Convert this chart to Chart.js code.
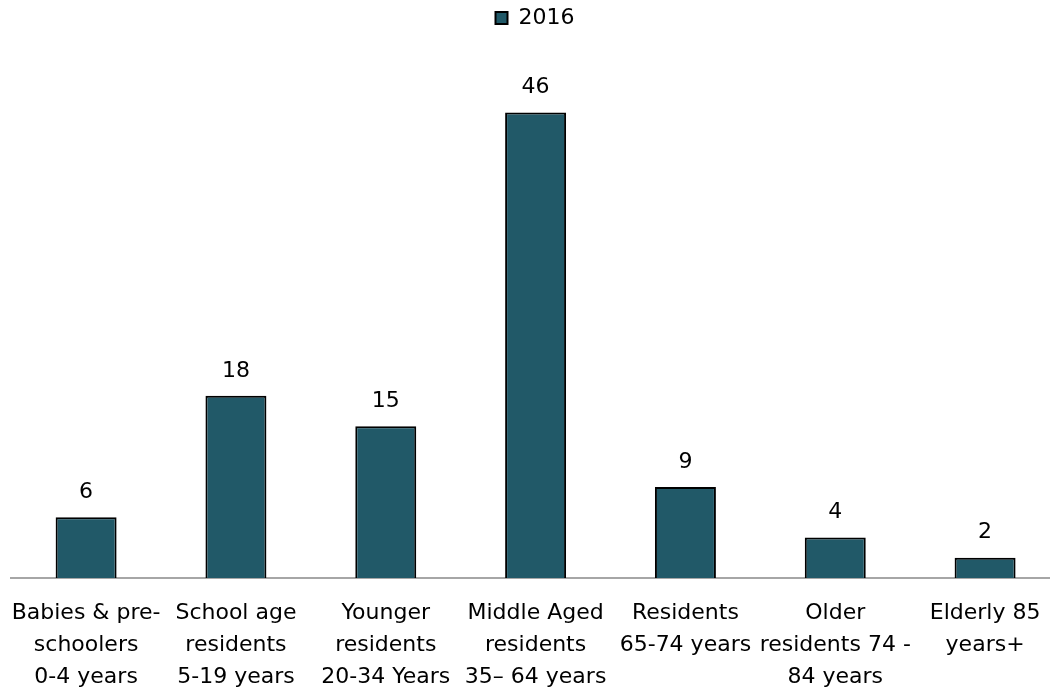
<!DOCTYPE html>
<html>
<head>
<meta charset="utf-8">
<script src="https://cdn.jsdelivr.net/npm/chart.js@4"></script>
<style>
    html, body { margin: 0; padding: 0; background: #fff; overflow: hidden; }
    #wrap { width: 1060px; height: 691px; }
</style>
</head>
<body>
<div id="wrap"><canvas id="bar" width="1060" height="691"></canvas></div>
<script>
// 연령대별 인구
const categories = [
    ["Babies & pre-", "schoolers", "0-4 years"],
    ["School age", "residents", "5-19 years"],
    ["Younger", "residents", "20-34 Years"],
    ["Middle Aged", "residents", "35– 64 years"],
    ["Residents", "65-74 years"],
    ["Older", "residents 74 -", "84 years"],
    ["Elderly 85", "years+"]
];
const values2016 = [6, 18, 15, 46, 9, 4, 2];
const seriesName = "2016";

const FONT = "'DejaVu Sans', sans-serif";
const FSIZE = 22;

// 막대 위에 값 표시
const valueLabels = {
    id: 'valueLabels',
    afterDatasetsDraw(chart) {
        const ctx = chart.ctx;
        const meta = chart.getDatasetMeta(0);
        ctx.save();
        ctx.font = `${FSIZE}px ${FONT}`;
        ctx.fillStyle = '#000';
        ctx.textAlign = 'center';
        ctx.textBaseline = 'middle';
        meta.data.forEach((bar, i) => {
            ctx.fillText(values2016[i], bar.x, bar.y - 25);
        });
        ctx.restore();
    }
};

// 범례 아래 여백
const legendMargin = {
    id: 'legendMargin',
    beforeInit(chart) {
        const fit = chart.legend.fit;
        chart.legend.fit = function () {
            fit.bind(chart.legend)();
            this.height += 33;
        };
    }
};

new Chart(document.getElementById("bar"), {
    type: 'bar',
    data: {
        labels: categories,
        datasets: [{
            label: seriesName,
            data: values2016,
            backgroundColor: '#215968',
            borderColor: '#000',
            borderWidth: 2,
            borderSkipped: 'bottom',
            categoryPercentage: 1,
            barPercentage: 0.407
        }]
    },
    options: {
        responsive: false,
        animation: false,
        layout: { padding: { left: 10, right: 0, top: 0, bottom: 0 } },
        plugins: {
            tooltip: { enabled: false },
            legend: {
                position: 'top',
                labels: {
                    font: { size: FSIZE, family: FONT },
                    color: '#000',
                    boxWidth: 12,
                    boxHeight: 12,
                    padding: 7
                }
            }
        },
        scales: {
            x: {
                grid: { display: false },
                border: { color: '#a6a6a6', width: 2 },
                ticks: {
                    color: '#000',
                    font: { size: FSIZE, family: FONT, lineHeight: 32 / FSIZE },
                    maxRotation: 0,
                    autoSkip: false,
                    padding: 11
                },
                afterFit(scale) {
                    scale.height = 113;
                }
            },
            y: {
                display: false,
                min: 0,
                max: 50
            }
        }
    },
    plugins: [valueLabels, legendMargin]
});
</script>
</body>
</html>
